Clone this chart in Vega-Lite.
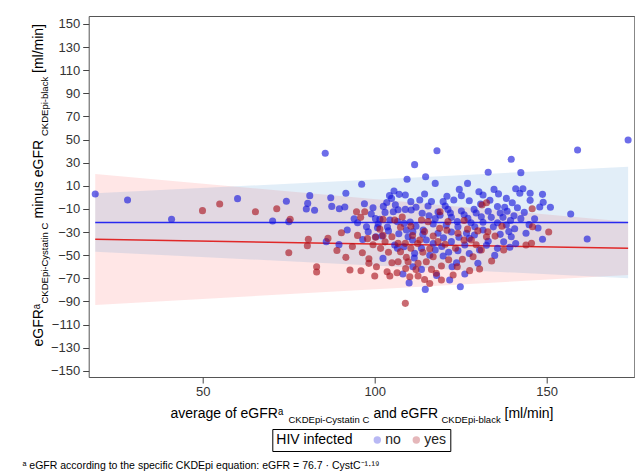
{
  "$schema": "https://vega.github.io/schema/vega-lite/v6.json",
  "width": 545.6,
  "height": 361,
  "autosize": {"type": "none"},
  "padding": {"left": 88.7, "top": 16, "right": 0.7, "bottom": 99},
  "background": "white",
  "config": {
    "font": "Liberation Sans",
    "view": {"stroke": "#555", "strokeWidth": 1},
    "axis": {
      "grid": false,
      "domain": false,
      "labelFont": "Liberation Sans",
      "titleFont": "Liberation Sans",
      "titleFontWeight": "normal",
      "titleColor": "black",
      "titleFontSize": 14,
      "tickColor": "#444",
      "labelColor": "#333"
    }
  },
  "datasets": {
    "pts": [
      {"x":18.7,"d":2.9,"hiv":"no"},{"x":28.1,"d":-2.3,"hiv":"no"},{"x":40.9,"d":-19.0,"hiv":"no"},{"x":60.1,"d":-1.1,"hiv":"no"},{"x":74.3,"d":-3.4,"hiv":"no"},{"x":70.3,"d":-20.5,"hiv":"no"},{"x":75.0,"d":-21.0,"hiv":"no"},{"x":81.1,"d":1.5,"hiv":"no"},{"x":80.5,"d":-5.2,"hiv":"no"},{"x":80.1,"d":-10.1,"hiv":"no"},{"x":82.5,"d":-11.2,"hiv":"no"},
      {"x":85.6,"d":38.1,"hiv":"no"},{"x":111.6,"d":28.3,"hiv":"no"},{"x":109.4,"d":15.6,"hiv":"no"},{"x":96.2,"d":11.3,"hiv":"no"},{"x":91.6,"d":3.5,"hiv":"no"},{"x":87.2,"d":-0.3,"hiv":"no"},{"x":87.5,"d":-7.8,"hiv":"no"},{"x":89.7,"d":-9.8,"hiv":"no"},{"x":91.3,"d":-8.3,"hiv":"no"},{"x":102.5,"d":-7.8,"hiv":"no"},{"x":105.6,"d":5.5,"hiv":"no"},{"x":104.3,"d":1.5,"hiv":"no"},{"x":104.9,"d":-0.9,"hiv":"no"},{"x":107.1,"d":2.6,"hiv":"no"},{"x":108.9,"d":2.0,"hiv":"no"},{"x":110.5,"d":-3.7,"hiv":"no"},{"x":106.8,"d":-10.7,"hiv":"no"},{"x":108.9,"d":-10.4,"hiv":"no"},{"x":110.6,"d":-11.0,"hiv":"no"},{"x":105.4,"d":-12.4,"hiv":"no"},{"x":99.0,"d":-14.4,"hiv":"no"},{"x":100.2,"d":-18.4,"hiv":"no"},{"x":101.5,"d":-19.0,"hiv":"no"},{"x":104.4,"d":-19.6,"hiv":"no"},{"x":106.6,"d":-21.0,"hiv":"no"},{"x":108.5,"d":-22.5,"hiv":"no"},{"x":110.3,"d":-21.3,"hiv":"no"},{"x":97.6,"d":-25.4,"hiv":"no"},{"x":100.8,"d":-26.2,"hiv":"no"},{"x":103.7,"d":-25.7,"hiv":"no"},{"x":98.1,"d":-29.7,"hiv":"no"},{"x":100.3,"d":-34.0,"hiv":"no"},{"x":102.1,"d":-33.4,"hiv":"no"},{"x":109.2,"d":-28.3,"hiv":"no"},{"x":111.1,"d":-29.7,"hiv":"no"},{"x":109.7,"d":-34.0,"hiv":"no"},{"x":111.0,"d":-36.9,"hiv":"no"},{"x":92.0,"d":-28.3,"hiv":"no"},{"x":85.9,"d":-38.3,"hiv":"no"},{"x":89.6,"d":-40.9,"hiv":"no"},{"x":105.8,"d":-41.2,"hiv":"no"},{"x":108.5,"d":-42.7,"hiv":"no"},{"x":106.6,"d":-44.1,"hiv":"no"},{"x":102.4,"d":-52.8,"hiv":"no"},{"x":108.2,"d":-66.3,"hiv":"no"},{"x":111.1,"d":-60.0,"hiv":"no"},{"x":111.6,"d":-48.4,"hiv":"no"},
      {"x":118.1,"d":40.4,"hiv":"no"},{"x":139.7,"d":32.9,"hiv":"no"},{"x":133.0,"d":21.7,"hiv":"no"},{"x":114.8,"d":17.9,"hiv":"no"},{"x":117.6,"d":12.1,"hiv":"no"},{"x":127.0,"d":12.1,"hiv":"no"},{"x":124.6,"d":6.9,"hiv":"no"},{"x":130.3,"d":4.9,"hiv":"no"},{"x":134.7,"d":6.9,"hiv":"no"},{"x":114.5,"d":2.9,"hiv":"no"},{"x":113.1,"d":-2.3,"hiv":"no"},{"x":125.2,"d":1.5,"hiv":"no"},{"x":123.0,"d":-2.3,"hiv":"no"},{"x":119.9,"d":-3.7,"hiv":"no"},{"x":131.5,"d":2.0,"hiv":"no"},{"x":130.8,"d":-5.7,"hiv":"no"},{"x":138.3,"d":-0.9,"hiv":"no"},{"x":140.0,"d":-4.6,"hiv":"no"},{"x":135.7,"d":-8.0,"hiv":"no"},{"x":137.8,"d":-8.6,"hiv":"no"},{"x":128.9,"d":-10.4,"hiv":"no"},{"x":125.2,"d":-11.8,"hiv":"no"},{"x":121.3,"d":-10.4,"hiv":"no"},{"x":118.4,"d":-12.7,"hiv":"no"},{"x":115.5,"d":-7.5,"hiv":"no"},{"x":113.8,"d":-13.8,"hiv":"no"},{"x":117.6,"d":-18.4,"hiv":"no"},{"x":122.3,"d":-17.3,"hiv":"no"},{"x":127.1,"d":-18.2,"hiv":"no"},{"x":131.0,"d":-16.7,"hiv":"no"},{"x":133.9,"d":-17.3,"hiv":"no"},{"x":137.3,"d":-17.3,"hiv":"no"},{"x":135.7,"d":-21.9,"hiv":"no"},{"x":138.3,"d":-23.9,"hiv":"no"},{"x":140.7,"d":-27.1,"hiv":"no"},{"x":117.0,"d":-23.1,"hiv":"no"},{"x":120.8,"d":-24.2,"hiv":"no"},{"x":124.2,"d":-25.4,"hiv":"no"},{"x":129.1,"d":-25.4,"hiv":"no"},{"x":114.1,"d":-28.3,"hiv":"no"},{"x":118.4,"d":-31.1,"hiv":"no"},{"x":122.3,"d":-30.0,"hiv":"no"},{"x":126.7,"d":-31.1,"hiv":"no"},{"x":131.5,"d":-28.3,"hiv":"no"},{"x":139.7,"d":-34.0,"hiv":"no"},{"x":115.0,"d":-36.9,"hiv":"no"},{"x":122.3,"d":-38.3,"hiv":"no"},{"x":126.2,"d":-41.2,"hiv":"no"},{"x":135.7,"d":-44.1,"hiv":"no"},{"x":139.3,"d":-43.2,"hiv":"no"},{"x":113.6,"d":-44.1,"hiv":"no"},{"x":117.6,"d":-45.6,"hiv":"no"},{"x":124.2,"d":-46.1,"hiv":"no"},{"x":130.5,"d":-45.6,"hiv":"no"},{"x":134.9,"d":-50.2,"hiv":"no"},{"x":119.9,"d":-50.7,"hiv":"no"},{"x":123.8,"d":-56.5,"hiv":"no"},{"x":113.6,"d":-62.3,"hiv":"no"},{"x":126.2,"d":-66.3,"hiv":"no"},{"x":121.8,"d":-71.5,"hiv":"no"},{"x":114.7,"d":-79.6,"hiv":"no"},{"x":124.9,"d":-77.3,"hiv":"no"},
      {"x":173.7,"d":49.6,"hiv":"no"},{"x":159.0,"d":41.0,"hiv":"no"},{"x":142.5,"d":21.4,"hiv":"no"},{"x":143.1,"d":7.5,"hiv":"no"},{"x":142.2,"d":3.5,"hiv":"no"},{"x":145.2,"d":3.5,"hiv":"no"},{"x":148.8,"d":2.6,"hiv":"no"},{"x":145.2,"d":-2.6,"hiv":"no"},{"x":149.0,"d":-4.3,"hiv":"no"},{"x":148.0,"d":-8.3,"hiv":"no"},{"x":151.1,"d":-8.6,"hiv":"no"},{"x":157.0,"d":-14.4,"hiv":"no"},{"x":142.5,"d":-18.4,"hiv":"no"},{"x":144.9,"d":-23.6,"hiv":"no"},{"x":148.8,"d":-36.3,"hiv":"no"},{"x":161.8,"d":-36.0,"hiv":"no"},
      {"x":103.5,"d":-4.5,"hiv":"no"},{"x":106.0,"d":-6.5,"hiv":"no"},{"x":112.0,"d":-8.5,"hiv":"no"},{"x":115.8,"d":-16.0,"hiv":"no"},{"x":119.0,"d":-15.5,"hiv":"no"},{"x":120.5,"d":-7.5,"hiv":"no"},{"x":122.0,"d":-13.5,"hiv":"no"},{"x":124.0,"d":-21.0,"hiv":"no"},{"x":126.0,"d":-15.0,"hiv":"no"},{"x":128.0,"d":-22.0,"hiv":"no"},{"x":129.5,"d":-13.5,"hiv":"no"},{"x":131.5,"d":-21.5,"hiv":"no"},{"x":133.0,"d":-12.0,"hiv":"no"},{"x":134.5,"d":-25.5,"hiv":"no"},{"x":136.5,"d":-13.5,"hiv":"no"},{"x":138.5,"d":-12.0,"hiv":"no"},{"x":140.5,"d":-16.0,"hiv":"no"},{"x":141.5,"d":-9.0,"hiv":"no"},{"x":139.0,"d":-29.5,"hiv":"no"},{"x":136.5,"d":-32.0,"hiv":"no"},{"x":133.0,"d":-38.0,"hiv":"no"},{"x":129.0,"d":-32.5,"hiv":"no"},{"x":127.5,"d":-35.5,"hiv":"no"},{"x":124.5,"d":-34.5,"hiv":"no"},{"x":120.0,"d":-35.0,"hiv":"no"},{"x":117.0,"d":-40.0,"hiv":"no"},{"x":119.5,"d":-42.5,"hiv":"no"},{"x":121.5,"d":-47.5,"hiv":"no"},{"x":127.5,"d":-48.5,"hiv":"no"},{"x":132.5,"d":-41.5,"hiv":"no"},{"x":137.5,"d":-38.5,"hiv":"no"},{"x":141.0,"d":-40.0,"hiv":"no"},{"x":116.0,"d":-50.0,"hiv":"no"},{"x":111.5,"d":-52.5,"hiv":"no"},{"x":114.0,"d":-32.0,"hiv":"no"},{"x":112.0,"d":-25.0,"hiv":"no"},{"x":107.0,"d":-31.5,"hiv":"no"},{"x":104.0,"d":-29.0,"hiv":"no"},{"x":103.0,"d":-13.0,"hiv":"no"},{"x":101.0,"d":-23.0,"hiv":"no"},{"x":99.5,"d":-9.0,"hiv":"no"},{"x":97.0,"d":-5.5,"hiv":"no"},{"x":95.0,"d":-22.0,"hiv":"no"},{"x":94.0,"d":-18.5,"hiv":"no"},{"x":96.5,"d":-36.5,"hiv":"no"},{"x":116.5,"d":-3.5,"hiv":"no"},{"x":121.0,"d":1.0,"hiv":"no"},{"x":127.5,"d":-3.0,"hiv":"no"},{"x":133.5,"d":-2.5,"hiv":"no"},{"x":136.0,"d":3.0,"hiv":"no"},{"x":141.0,"d":7.5,"hiv":"no"},{"x":139.5,"d":-20.0,"hiv":"no"},{"x":143.5,"d":-13.0,"hiv":"no"},{"x":146.5,"d":-18.5,"hiv":"no"},{"x":144.0,"d":-31.0,"hiv":"no"},{"x":147.5,"d":-26.5,"hiv":"no"},{"x":122.5,"d":-60.0,"hiv":"no"},{"x":130.0,"d":-57.0,"hiv":"no"},{"x":118.0,"d":-67.5,"hiv":"no"},{"x":110.0,"d":-74.0,"hiv":"no"},
      {"x":49.9,"d":-11.5,"hiv":"yes"},{"x":54.9,"d":-5.8,"hiv":"yes"},{"x":65.3,"d":-12.4,"hiv":"yes"},{"x":71.5,"d":-9.8,"hiv":"yes"},{"x":75.4,"d":-19.0,"hiv":"yes"},{"x":80.7,"d":-36.3,"hiv":"yes"},{"x":80.4,"d":-41.8,"hiv":"yes"},{"x":75.0,"d":-47.9,"hiv":"yes"},{"x":83.1,"d":-60.0,"hiv":"yes"},{"x":83.1,"d":-64.6,"hiv":"yes"},
      {"x":94.7,"d":-12.4,"hiv":"yes"},{"x":97.1,"d":-12.4,"hiv":"yes"},{"x":95.9,"d":-17.3,"hiv":"yes"},{"x":102.4,"d":-19.0,"hiv":"yes"},{"x":105.8,"d":-19.6,"hiv":"yes"},{"x":107.5,"d":-25.9,"hiv":"yes"},{"x":90.3,"d":-30.6,"hiv":"yes"},{"x":95.0,"d":-32.9,"hiv":"yes"},{"x":97.9,"d":-35.7,"hiv":"yes"},{"x":100.2,"d":-34.6,"hiv":"yes"},{"x":102.4,"d":-32.9,"hiv":"yes"},{"x":105.0,"d":-34.0,"hiv":"yes"},{"x":86.4,"d":-35.5,"hiv":"yes"},{"x":101.7,"d":-44.1,"hiv":"yes"},{"x":106.8,"d":-39.8,"hiv":"yes"},{"x":108.9,"d":-39.8,"hiv":"yes"},{"x":96.4,"d":-47.9,"hiv":"yes"},{"x":91.6,"d":-51.9,"hiv":"yes"},{"x":98.3,"d":-53.1,"hiv":"yes"},{"x":98.3,"d":-57.1,"hiv":"yes"},{"x":105.0,"d":-56.5,"hiv":"yes"},{"x":106.8,"d":-55.7,"hiv":"yes"},{"x":109.2,"d":-51.9,"hiv":"yes"},{"x":109.7,"d":-55.7,"hiv":"yes"},{"x":92.8,"d":-62.9,"hiv":"yes"},{"x":103.6,"d":-64.3,"hiv":"yes"},{"x":104.4,"d":-68.1,"hiv":"yes"},{"x":106.5,"d":-65.2,"hiv":"yes"},{"x":110.2,"d":-68.6,"hiv":"yes"},{"x":112.6,"d":-68.1,"hiv":"yes"},{"x":108.9,"d":-91.7,"hiv":"yes"},
      {"x":132.5,"d":-4.6,"hiv":"yes"},{"x":131.2,"d":-6.6,"hiv":"yes"},{"x":113.6,"d":-19.6,"hiv":"yes"},{"x":115.5,"d":-21.0,"hiv":"yes"},{"x":121.3,"d":-21.0,"hiv":"yes"},{"x":118.9,"d":-26.8,"hiv":"yes"},{"x":132.9,"d":-29.7,"hiv":"yes"},{"x":124.2,"d":-31.1,"hiv":"yes"},{"x":113.1,"d":-36.9,"hiv":"yes"},{"x":118.4,"d":-38.3,"hiv":"yes"},{"x":128.1,"d":-36.9,"hiv":"yes"},{"x":132.5,"d":-34.0,"hiv":"yes"},{"x":117.0,"d":-51.3,"hiv":"yes"},{"x":128.6,"d":-51.3,"hiv":"yes"},{"x":131.0,"d":-45.6,"hiv":"yes"},{"x":115.0,"d":-55.7,"hiv":"yes"},{"x":119.4,"d":-59.4,"hiv":"yes"},{"x":116.5,"d":-62.3,"hiv":"yes"},{"x":117.9,"d":-65.7,"hiv":"yes"},{"x":122.8,"d":-67.2,"hiv":"yes"},{"x":127.6,"d":-63.4,"hiv":"yes"},{"x":119.4,"d":-71.5,"hiv":"yes"},{"x":112.6,"d":-57.1,"hiv":"yes"},
      {"x":145.8,"d":-9.8,"hiv":"yes"},{"x":145.9,"d":-25.4,"hiv":"yes"},{"x":150.6,"d":-30.0,"hiv":"yes"},{"x":144.0,"d":-41.2,"hiv":"yes"},{"x":145.6,"d":-39.8,"hiv":"yes"},
      {"x":99.5,"d":-41.0,"hiv":"yes"},{"x":103.0,"d":-38.5,"hiv":"yes"},{"x":104.0,"d":-47.5,"hiv":"yes"},{"x":107.5,"d":-47.0,"hiv":"yes"},{"x":110.5,"d":-44.0,"hiv":"yes"},{"x":112.5,"d":-40.0,"hiv":"yes"},{"x":114.0,"d":-47.5,"hiv":"yes"},{"x":116.0,"d":-44.5,"hiv":"yes"},{"x":120.5,"d":-40.5,"hiv":"yes"},{"x":121.5,"d":-54.0,"hiv":"yes"},{"x":123.5,"d":-44.0,"hiv":"yes"},{"x":125.5,"d":-53.5,"hiv":"yes"},{"x":126.0,"d":-37.0,"hiv":"yes"},{"x":129.5,"d":-41.0,"hiv":"yes"},{"x":111.0,"d":-33.0,"hiv":"yes"},{"x":114.5,"d":-29.5,"hiv":"yes"},{"x":117.0,"d":-33.5,"hiv":"yes"},{"x":121.0,"d":-28.5,"hiv":"yes"},{"x":127.0,"d":-27.5,"hiv":"yes"},{"x":130.0,"d":-29.0,"hiv":"yes"},{"x":109.0,"d":-61.5,"hiv":"yes"},{"x":112.0,"d":-62.5,"hiv":"yes"},{"x":114.5,"d":-71.0,"hiv":"yes"},{"x":100.5,"d":-60.0,"hiv":"yes"},{"x":96.0,"d":-63.5,"hiv":"yes"},{"x":100.0,"d":-68.0,"hiv":"yes"},{"x":124.0,"d":-60.0,"hiv":"yes"},{"x":130.5,"d":-62.0,"hiv":"yes"},{"x":134.0,"d":-55.0,"hiv":"yes"},{"x":137.5,"d":-45.5,"hiv":"yes"},{"x":135.0,"d":-33.5,"hiv":"yes"},{"x":137.0,"d":-25.0,"hiv":"yes"},{"x":89.0,"d":-46.0,"hiv":"yes"},{"x":93.5,"d":-42.5,"hiv":"yes"},{"x":101.5,"d":-27.5,"hiv":"yes"},{"x":108.0,"d":-17.0,"hiv":"yes"},{"x":119.0,"d":-12.5,"hiv":"yes"},{"x":126.0,"d":-20.0,"hiv":"yes"},{"x":110.5,"d":-25.0,"hiv":"yes"},{"x":116.0,"d":-74.5,"hiv":"yes"}
    ],
    "fit": [
      {"x":18.7,"y":-21.8,"hiv":"no"},{"x":173.7,"y":-21.8,"hiv":"no"},
      {"x":18.7,"y":-36.3,"hiv":"yes"},{"x":173.7,"y":-44.1,"hiv":"yes"}
    ],
    "band": [
      {"x":18.7,"lo":-47.0,"hi":3.5,"hiv":"no"},{"x":173.7,"lo":-70.0,"hi":26.5,"hiv":"no"},
      {"x":18.7,"lo":-93.1,"hi":20.2,"hiv":"yes"},{"x":173.7,"lo":-67.2,"hi":-21.2,"hiv":"yes"}
    ]
  },
  "resolve": {"axis": {"x": "independent", "y": "independent"}},
  "layer": [
    {
      "data": {"name": "band"},
      "transform": [{"filter": "datum.hiv == 'yes'"}],
      "mark": {"type": "area", "color": "#ff1a1a", "opacity": 0.11},
      "encoding": {
        "x": {"field": "x", "type": "quantitative", "scale": {"domain": [16.8, 175.5], "nice": false, "zero": false},
          "axis": {"orient": "bottom", "values": [50, 100, 150], "tickSize": 6, "labelFontSize": 13, "labelPadding": 2,
            "title": "average of  eGFRᵃ", "titleAlign": "left", "titleBaseline": "alphabetic", "titleX": 81.3, "titleY": 40}},
        "y": {"field": "lo", "type": "quantitative", "scale": {"domain": [-155.4, 156.9], "nice": false, "zero": false},
          "axis": {"orient": "left", "values": [-150,-130,-110,-90,-70,-50,-30,-10,10,30,50,70,90,110,130,150], "tickSize": 6, "labelFontSize": 13, "labelPadding": 3,
            "title": "eGFRᵃ", "titleAngle": 270, "titleAlign": "left", "titleBaseline": "alphabetic", "titleX": -45.7, "titleY": 330}},
        "y2": {"field": "hi"}
      }
    },
    {
      "data": {"name": "band"},
      "transform": [{"filter": "datum.hiv == 'no'"}],
      "mark": {"type": "area", "color": "#3d8fd0", "opacity": 0.15},
      "encoding": {
        "x": {"field": "x", "type": "quantitative", "scale": {"domain": [16.8, 175.5], "nice": false, "zero": false},
          "axis": {"orient": "bottom", "labels": false, "ticks": false, "domain": false,
            "title": "CKDEpi-Cystatin C", "titleFontSize": 9.5, "titleAlign": "left", "titleBaseline": "alphabetic", "titleX": 199.3, "titleY": 45}},
        "y": {"field": "lo", "type": "quantitative", "scale": {"domain": [-155.4, 156.9], "nice": false, "zero": false},
          "axis": {"orient": "left", "labels": false, "ticks": false, "domain": false,
            "title": "CKDEpi-Cystatin C", "titleFontSize": 9.5, "titleAngle": 270, "titleAlign": "left", "titleBaseline": "alphabetic", "titleX": -41.2, "titleY": 287}},
        "y2": {"field": "hi"}
      }
    },
    {
      "data": {"name": "fit"},
      "transform": [{"filter": "datum.hiv == 'yes'"}],
      "mark": {"type": "line", "color": "#e02828", "strokeWidth": 1.5},
      "encoding": {
        "x": {"field": "x", "type": "quantitative", "scale": {"domain": [16.8, 175.5], "nice": false, "zero": false},
          "axis": {"orient": "bottom", "labels": false, "ticks": false, "domain": false,
            "title": "and  eGFR", "titleAlign": "left", "titleBaseline": "alphabetic", "titleX": 284.3, "titleY": 40}},
        "y": {"field": "y", "type": "quantitative", "scale": {"domain": [-155.4, 156.9], "nice": false, "zero": false},
          "axis": {"orient": "left", "labels": false, "ticks": false, "domain": false,
            "title": "minus  eGFR", "titleAngle": 270, "titleAlign": "left", "titleBaseline": "alphabetic", "titleX": -45.7, "titleY": 202}}
      }
    },
    {
      "data": {"name": "fit"},
      "transform": [{"filter": "datum.hiv == 'no'"}],
      "mark": {"type": "line", "color": "#2828f0", "strokeWidth": 1.5},
      "encoding": {
        "x": {"field": "x", "type": "quantitative", "scale": {"domain": [16.8, 175.5], "nice": false, "zero": false},
          "axis": {"orient": "bottom", "labels": false, "ticks": false, "domain": false,
            "title": "CKDEpi-black", "titleFontSize": 9.5, "titleAlign": "left", "titleBaseline": "alphabetic", "titleX": 352.3, "titleY": 45}},
        "y": {"field": "y", "type": "quantitative", "scale": {"domain": [-155.4, 156.9], "nice": false, "zero": false},
          "axis": {"orient": "left", "labels": false, "ticks": false, "domain": false,
            "title": "CKDEpi-black", "titleFontSize": 9.5, "titleAngle": 270, "titleAlign": "left", "titleBaseline": "alphabetic", "titleX": -41.2, "titleY": 119.5}}
      }
    },
    {
      "mark": {"type": "rule", "color": "#8c8c8c", "strokeWidth": 1.5},
      "encoding": {
        "y": {"datum": 0, "type": "quantitative", "scale": {"domain": [-155.4, 156.9], "nice": false, "zero": false},
          "axis": {"orient": "left", "labels": false, "ticks": false, "domain": false,
            "title": "[ml/min]", "titleAngle": 270, "titleAlign": "left", "titleBaseline": "alphabetic", "titleX": -45.7, "titleY": 56.5}}
      }
    },
    {
      "data": {"name": "pts"},
      "mark": {"type": "point", "shape": "circle", "filled": true, "opacity": 0.62, "size": 50},
      "encoding": {
        "x": {"field": "x", "type": "quantitative", "scale": {"domain": [16.8, 175.5], "nice": false, "zero": false},
          "axis": {"orient": "bottom", "labels": false, "ticks": false, "domain": false,
            "title": "[ml/min]", "titleAlign": "left", "titleBaseline": "alphabetic", "titleX": 415.3, "titleY": 40}},
        "y": {"field": "d", "type": "quantitative", "scale": {"domain": [-155.4, 156.9], "nice": false, "zero": false},
          "axis": {"orient": "left", "labels": false, "ticks": false, "domain": false,
            "title": "ᵃ eGFR according to the specific CKDEpi equation: eGFR = 76.7 · CystC⁻¹·¹⁹", "titleFontSize": 10.5, "titleAngle": 0, "titleAlign": "left", "titleBaseline": "middle", "titleX": -66.7, "titleY": 449}},
        "color": {"field": "hiv", "type": "nominal", "scale": {"domain": ["no", "yes"], "range": ["#1414dc", "#a8101c"]},
          "legend": {"orient": "none", "legendX": 183.6, "legendY": 413, "direction": "horizontal", "titleOrient": "left",
            "title": "HIV infected", "titleFontSize": 14, "titleFontWeight": "normal", "titleColor": "black", "titleFont": "Liberation Sans",
            "labelFontSize": 14, "labelColor": "#222", "labelFont": "Liberation Sans", "symbolType": "circle", "symbolSize": 55, "symbolOpacity": 0.3, "symbolStrokeWidth": 0,
            "strokeColor": "black", "padding": 4, "columnPadding": 8, "titlePadding": 17, "labelOffset": 1}}
      }
    }
  ]
}
